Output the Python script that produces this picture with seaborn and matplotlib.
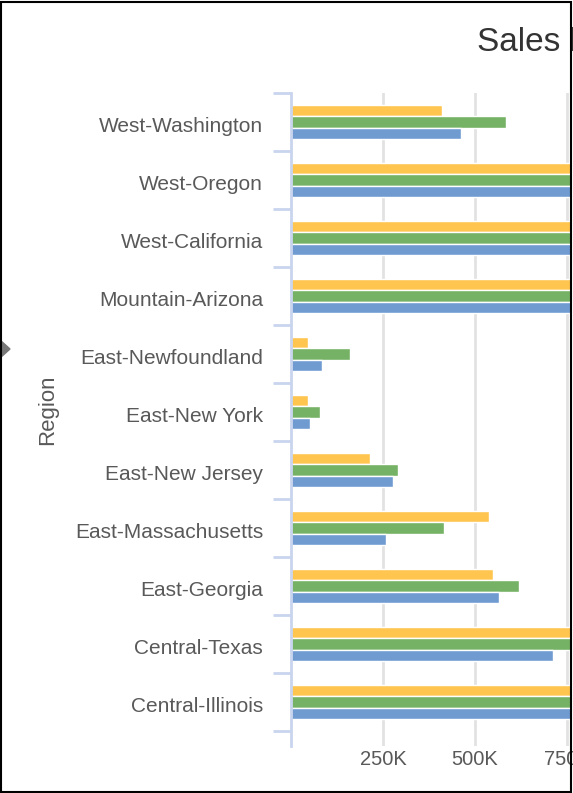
import pandas as pd
import matplotlib.pyplot as plt
import seaborn as sns
from matplotlib.patches import Polygon, Rectangle
from matplotlib.ticker import FuncFormatter, FixedLocator
from matplotlib.transforms import ScaledTranslation

# Data (values in dollars; bars past the right edge are clipped)
regions = ['West-Washington', 'West-Oregon', 'West-California', 'Mountain-Arizona',
           'East-Newfoundland', 'East-New York', 'East-New Jersey', 'East-Massachusetts',
           'East-Georgia', 'Central-Texas', 'Central-Illinois']
series_names = ['2016', '2017', '2018']
sales_2016 = [411000, 950000, 1100000, 980000, 46000, 46000, 214000, 538000, 549000, 900000, 1050000]
sales_2017 = [584000, 1000000, 1150000, 1020000, 159000, 78000, 292000, 416000, 619000, 880000, 1000000]
sales_2018 = [462000, 980000, 1200000, 1000000, 84000, 51000, 276000, 259000, 565000, 711000, 1080000]
colors = ['#FFC54F', '#76B266', '#6F9BD1']

df = pd.DataFrame({
    'Region': regions * 3,
    'Series': [s for s in series_names for _ in regions],
    'Sales': sales_2016 + sales_2017 + sales_2018,
})

sns.set_style('white')
plt.rcParams['font.family'] = ['Liberation Sans', 'DejaVu Sans']

W, H = 573, 793
fig = plt.figure(figsize=(W / 100, H / 100), dpi=100)
ax = fig.add_axes([291 / W, 1 - 746 / H, (571 - 291) / W, (746 - 93) / H])

sns.barplot(data=df, y='Region', x='Sales', hue='Series', orient='h',
            order=regions, hue_order=series_names, palette=colors,
            width=0.6, saturation=1, edgecolor='white', linewidth=1,
            legend=False, ax=ax)

ax.set_xlim(0, 761000)
ax.set_ylim(10.5 + 0.26, -0.5)

# x axis
ax.xaxis.set_major_locator(FixedLocator([250000, 500000, 750000]))
ax.xaxis.set_major_formatter(FuncFormatter(lambda v, p: f'{int(v / 1000)}K'))
ax.tick_params(axis='x', length=0, pad=3, labelsize=14.5, labelcolor='#595959')
ax.grid(axis='x', color='#E2E2E2', linewidth=2)
ax.set_axisbelow(True)

# y axis: labels at category centres, ticks at band boundaries
ax.yaxis.set_minor_locator(FixedLocator([i - 0.5 for i in range(len(regions) + 1)]))
ax.tick_params(axis='y', which='major', length=0, pad=20, labelsize=15, labelcolor='#595959')
ax.tick_params(axis='y', which='minor', length=13, width=2, color='#C9D5EE', left=True)
shift = ScaledTranslation(0, -3 / 100, fig.dpi_scale_trans)
for lbl in ax.get_yticklabels():
    lbl.set_transform(lbl.get_transform() + shift)

ax.set_xlabel('')
ax.set_ylabel('')
for s in ['top', 'right', 'bottom']:
    ax.spines[s].set_visible(False)
ax.spines['left'].set_color('#C9D5EE')
ax.spines['left'].set_linewidth(2)

fig.text(48 / W, 1 - 410 / H, 'Region', rotation=90, ha='center', va='center',
         fontsize=16, color='#595959')
fig.text(477 / W, 1 - 43 / H, 'Sales by Region', ha='left', va='center',
         fontsize=24, color='#333333')

# small collapse arrow and screenshot border
fig.patches.append(Polygon([(0, 1 - 340 / H), (10 / W, 1 - 349 / H), (0, 1 - 358 / H)],
                           closed=True, transform=fig.transFigure, color='#777777'))
fig.patches.append(Rectangle((1 / W, 1 / H), 570 / W, (H - 3) / H, transform=fig.transFigure,
                             fill=False, edgecolor='black', linewidth=1.5))

plt.savefig('out.png', dpi=100)
